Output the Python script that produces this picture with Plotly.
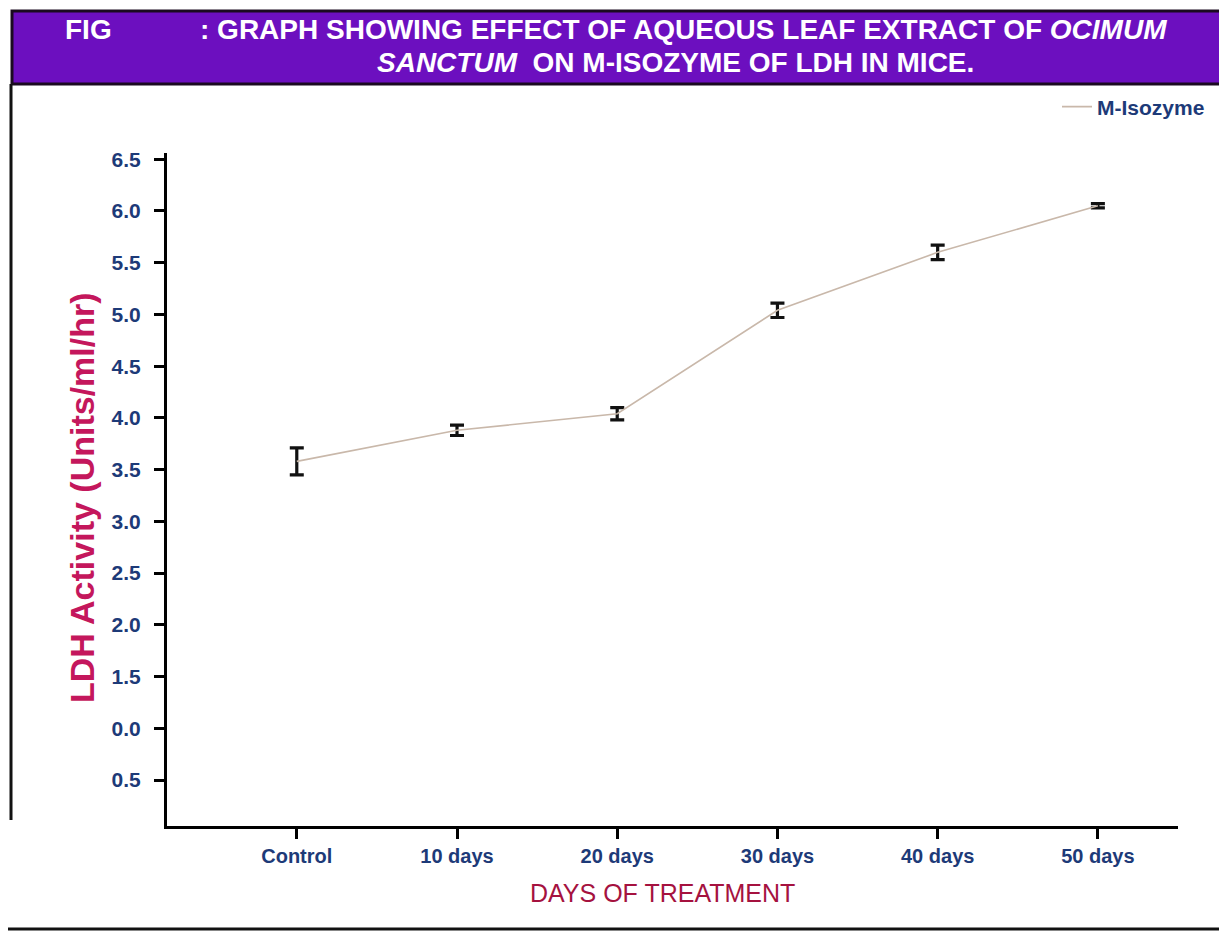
import plotly.graph_objects as go

# ---- data ----
categories = ["Control", "10 days", "20 days", "30 days", "40 days", "50 days"]
m_isozyme = [3.58, 3.88, 4.04, 5.04, 5.60, 6.05]
m_isozyme_err = [0.13, 0.05, 0.06, 0.07, 0.07, 0.02]
y_tickvals = [0.5, 1.0, 1.5, 2.0, 2.5, 3.0, 3.5, 4.0, 4.5, 5.0, 5.5, 6.0, 6.5]
y_ticktext = ["0.5", "0.0", "1.5", "2.0", "2.5", "3.0", "3.5", "4.0", "4.5", "5.0", "5.5", "6.0", "6.5"]

OFF = 8  # page body margin
W, H = 1227, 933
L, T = 167 - OFF, 153 - OFF
R = W - (1178 - OFF)
B = H - (826 - OFF)
PW, PH = W - L - R, H - T - B

def px(x):
    return (x - OFF - L) / PW

def py(y):
    return (H - B - (y - OFF)) / PH

NAVY = "#1d3a78"
CRIMSON = "#c4175c"
SANS = "Liberation Sans, Arial, sans-serif"

fig = go.Figure()
fig.add_trace(go.Scatter(
    x=categories, y=m_isozyme, mode="lines", name="M-Isozyme",
    line=dict(color="#c9b8aa", width=1.6),
    error_y=dict(type="data", array=m_isozyme_err, visible=True,
                 color="#111111", thickness=3.2, width=7),
))

fig.update_layout(
    width=W, height=H,
    margin=dict(l=L, r=R, t=T, b=B),
    paper_bgcolor="white", plot_bgcolor="white",
    showlegend=True,
    legend=dict(x=px(1210), y=py(107), xanchor="right", yanchor="middle",
                bgcolor="rgba(0,0,0,0)",
                font=dict(family=SANS, size=21, color=NAVY, weight="bold")),
    xaxis=dict(type="category", range=[-0.81, 5.5], showgrid=False, zeroline=False,
               showline=True, linecolor="black", linewidth=3,
               ticks="outside", ticklen=10, tickwidth=2.5, tickcolor="black",
               tickfont=dict(family=SANS, size=20, color=NAVY, weight="bold")),
    yaxis=dict(range=[0.056, 6.56], showgrid=False, zeroline=False,
               showline=True, linecolor="black", linewidth=3,
               ticks="outside", ticklen=10, tickwidth=2.5, tickcolor="black",
               ticklabelstandoff=9,
               tickvals=y_tickvals, ticktext=y_ticktext,
               tickfont=dict(family=SANS, size=21, color=NAVY, weight="bold")),
    shapes=[
        # title banner
        dict(type="rect", xref="paper", yref="paper",
             x0=px(12), x1=px(1240), y0=py(84), y1=py(11),
             fillcolor="#6c0fbf", line=dict(color="#1a0a20", width=3), layer="below"),
        # left frame line
        dict(type="line", xref="paper", yref="paper",
             x0=px(11), x1=px(11), y0=py(84), y1=py(820),
             line=dict(color="#111111", width=3)),
        # bottom frame line
        dict(type="line", xref="paper", yref="paper",
             x0=px(0), x1=px(1240), y0=py(929), y1=py(929),
             line=dict(color="#111111", width=3)),
    ],
    annotations=[
        dict(text="FIG", xref="paper", yref="paper", x=px(88), y=py(30),
             xanchor="center", yanchor="middle", showarrow=False,
             font=dict(family=SANS, size=28, color="white", weight="bold")),
        dict(text=": GRAPH SHOWING EFFECT OF AQUEOUS LEAF EXTRACT OF <i>OCIMUM</i>",
             xref="paper", yref="paper", x=px(198), y=py(30),
             xanchor="left", yanchor="middle", showarrow=False,
             font=dict(family=SANS, size=28, color="white", weight="bold")),
        dict(text="<i>SANCTUM</i>  ON M-ISOZYME OF LDH IN MICE.",
             xref="paper", yref="paper", x=px(675), y=py(62),
             xanchor="center", yanchor="middle", showarrow=False,
             font=dict(family=SANS, size=28, color="white", weight="bold")),
        dict(text="LDH Activity (Units/ml/hr)", xref="paper", yref="paper",
             x=px(82), y=py(498), xanchor="center", yanchor="middle",
             textangle=-90, showarrow=False,
             font=dict(family=SANS, size=34, color=CRIMSON, weight="bold")),
        dict(text="DAYS OF TREATMENT", xref="paper", yref="paper",
             x=px(662), y=py(893), xanchor="center", yanchor="middle", showarrow=False,
             font=dict(family=SANS, size=25, color="#a5123f")),
    ],
)

fig.write_html("out.html")
